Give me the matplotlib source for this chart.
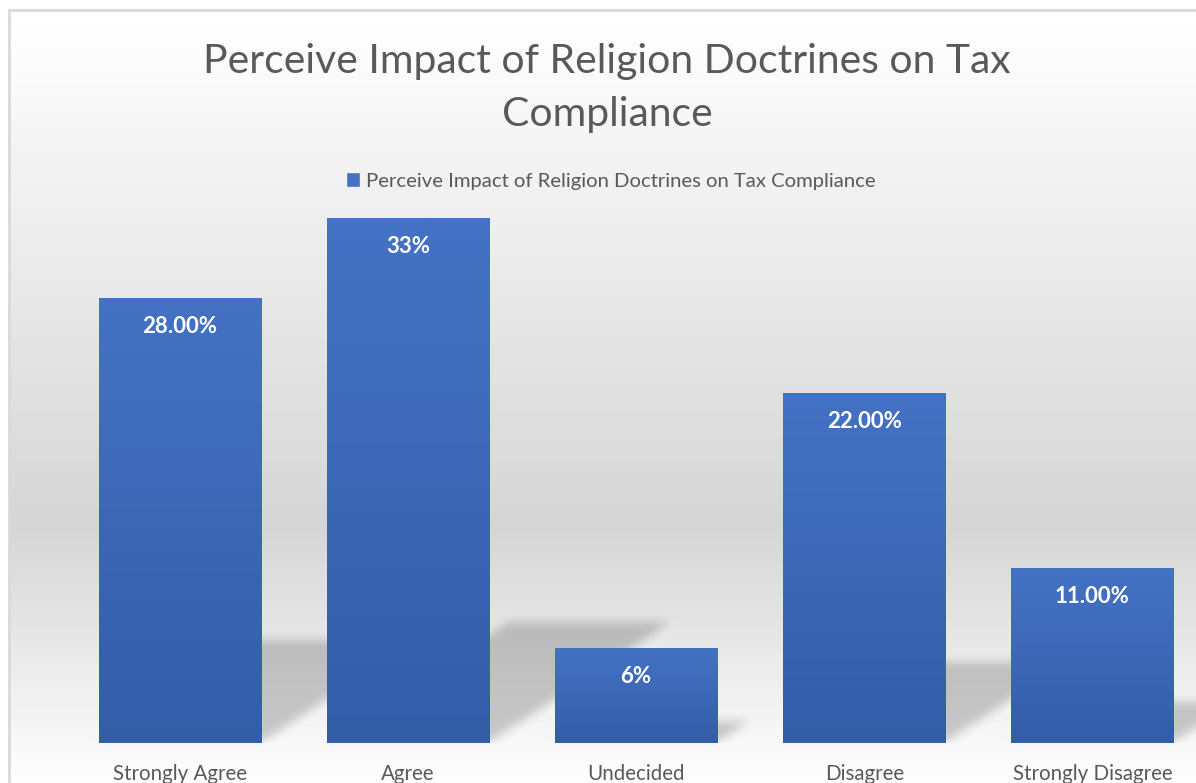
import numpy as np
import matplotlib
matplotlib.use("Agg")
import matplotlib.pyplot as plt

# ---------- data ----------
categories = ["Strongly Agree", "Agree", "Undecided", "Disagree", "Strongly Disagree"]
values = [28, 33, 6, 22, 11]
value_labels = ["28.00%", "33%", "6%", "22.00%", "11.00%"]
series_name = "Perceive Impact of Religion Doctrines on Tax Compliance"
title = "Perceive Impact of Religion Doctrines on Tax\nCompliance"

# ---------- style ----------
W, H, DPI = 1196, 783, 100
TEXT_GRAY = "#595959"
BAR_TOP = np.array([68, 114, 196]) / 255
BAR_BOTTOM = np.array([52, 93, 168]) / 255
BAR_W = 0.71
YMAX = 35

plt.rcParams["font.family"] = ["Lato", "DejaVu Sans"]


def box_blur(a, r):
    k = np.ones(2 * r + 1) / (2 * r + 1)
    for _ in range(2):
        for axis in (0, 1):
            a = np.apply_along_axis(lambda m: np.convolve(m, k, mode="same"), axis, a)
    return a


fig = plt.figure(figsize=(W / DPI, H / DPI), dpi=DPI)

# background: chart area with vertical grey gradient and thin frame
bg = fig.add_axes([0, 0, 1, 1], zorder=-10)
bg.set_xlim(0, W)
bg.set_ylim(H, 0)
bg.axis("off")
rows = np.arange(H)
frac = np.clip((rows - 10) / 780, 0, 1)
shade = np.interp(frac, [0, 0.66, 1], [1.0, 0.835, 1.0])
shade[rows < 10] = 1.0
grad = np.repeat(shade[:, None], W, axis=1)
grad[:, :9] = 1.0
bg.imshow(grad, cmap="gray", vmin=0, vmax=1, extent=(0, W, H, 0),
          aspect="auto", interpolation="bilinear")
bg.plot([9, 9], [10, H], color="#d9d9d9", lw=2)
bg.plot([9, W], [10, 10], color="#d9d9d9", lw=2)

# main plot
ax_box = [65.5 / W, 40 / H, 1141 / W, 556.5 / H]
ax = fig.add_axes(ax_box)
ax.patch.set_alpha(0)
x = np.arange(len(categories))
bars = ax.bar(x, values, width=BAR_W, color=BAR_TOP, edgecolor="#5b83cf",
              linewidth=0.6, zorder=3, label=series_name)

# gradient fill in each bar
gcol = np.linspace(BAR_BOTTOM, BAR_TOP, 256)[:, None, :]
for b in bars:
    x0, w, h = b.get_x(), b.get_width(), b.get_height()
    im = ax.imshow(gcol, extent=(x0, x0 + w, 0, h), origin="lower",
                   aspect="auto", zorder=3.5, interpolation="bilinear")
    im.set_clip_path(b)

# perspective shadows behind the bars
ax_w_px, ax_h_px = ax_box[2] * W, ax_box[3] * H
px_x = ax_w_px / len(categories)
px_y = ax_h_px / YMAX
SH_K, SH_SHEAR = 0.23, 1.5
nx, ny = int(ax_w_px), int(ax_h_px)
gx = np.linspace(-0.5, len(categories) - 0.5, nx)
gy = np.linspace(0, YMAX, ny)
GX, GY = np.meshgrid(gx, gy)
mask = np.zeros((ny, nx))
for xi, v in zip(x, values):
    sh = v * SH_K
    dx = SH_SHEAR * sh * px_y / px_x
    left = xi - BAR_W / 2 + dx * GY / sh
    inside = (GY <= sh) & (GX >= left) & (GX <= left + BAR_W)
    mask[inside] = 1
mask = box_blur(mask, 5)
rgba = np.zeros((ny, nx, 4))
rgba[..., 3] = mask * 0.19
ax.imshow(rgba, extent=(-0.5, len(categories) - 0.5, 0, YMAX), origin="lower",
          aspect="auto", zorder=2)

ax.set_xlim(-0.5, len(categories) - 0.5)
ax.set_ylim(0, YMAX)

# data labels
for b, lab in zip(bars, value_labels):
    ax.annotate(lab, (b.get_x() + b.get_width() / 2, b.get_height()),
                xytext=(0, -20.5), textcoords="offset points", ha="center", va="center",
                color="white", fontsize=16, fontweight="bold", zorder=5)

ax.set_xticks(x, categories)
ax.tick_params(axis="x", length=0, pad=15, labelsize=14.8, labelcolor=TEXT_GRAY)
ax.set_yticks([])
for s in ax.spines.values():
    s.set_visible(False)

fig.text(607 / W, 1 - 88 / H, title, ha="center", va="center", fontsize=29.4,
         color=TEXT_GRAY, linespacing=1.52)

fig.legend(handles=[bars], labels=[series_name], loc="center",
           bbox_to_anchor=(611 / W, 1 - 181 / H), frameon=False, fontsize=14.6,
           handlelength=0.6, handleheight=0.6, handletextpad=0.35, labelcolor=TEXT_GRAY)

fig.savefig("out.png", dpi=DPI)
